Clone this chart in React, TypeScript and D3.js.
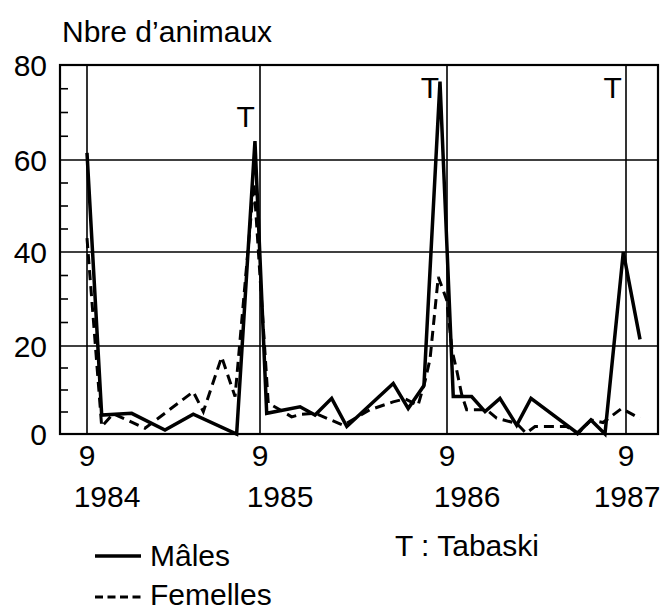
import React from 'react';
import * as d3 from 'd3';

// months counted from September 1984 (0 = Sep 1984)
const maleMonths = [0, 1.02, 3.1, 5.41, 7.37, 10.38, 11.65, 12.43, 14.57, 15.53, 16.6, 17.57, 20.55, 21.51, 22.52, 23.55, 24.42, 25.65, 26.55, 27.55, 28.67, 29.63, 32.75, 33.65, 34.59, 35.82, 36.94];
const maleValues = [61.5, 4.3, 4.7, 0.9, 4.5, 0, 64, 4.7, 6.2, 4.3, 8.1, 1.7, 11.5, 5.8, 11, 76.5, 8.5, 8.5, 5.1, 8.1, 2, 8.1, 0.2, 3.2, 0, 40, 21.4];

const femaleMonths = [0, 1.02, 1.82, 4.02, 7.37, 8.07, 9.34, 10.27, 11.58, 12.53, 13.28, 14.03, 14.68, 15.53, 17.35, 19.06, 20.54, 21.3, 22.14, 22.59, 22.91, 23.44, 23.98, 24.34, 24.65, 24.99, 25.32, 26.66, 27.33, 28.67, 29.3, 29.9, 32.02, 32.75, 33.65, 34.46, 35.71, 36.94];
const femaleValues = [43, 1.7, 4.6, 1.3, 9.6, 5.1, 17.5, 8.5, 55, 7, 5.5, 3.9, 4.5, 4.7, 2, 5.5, 7.3, 8, 6.5, 12, 17, 34.7, 29.8, 19, 14.5, 8.9, 5.5, 5.5, 3.6, 2.4, 0.2, 1.7, 1.7, 0, 3.2, 2.6, 5.8, 3.5];

const yTickValues = [0, 20, 40, 60, 80];
const yMinorValues = [5, 10, 15, 25, 30, 35, 45, 50, 55, 65, 70, 75];
const septemberMonths = [0, 12, 24, 36];
const monthLabels = ['9', '9', '9', '9'];
const yearLabels = ['1984', '1985', '1986', '1987'];
const tabaskiMonths = [11.0, 22.9, 35.1];
const tabaskiLabelValues = [67, 73, 73];

const FONT = '"Liberation Sans", Arial, Helvetica, sans-serif';

export default function App() {
  const left = 60, right = 658, top = 65, bottom = 434;
  // hand-drawn axes: piecewise-linear scales matching the drawn grid
  const x = d3.scaleLinear().domain([0, 12, 24, 36]).range([87, 260, 447, 626]);
  const y = d3.scaleLinear().domain([0, 20, 40, 60, 80]).range([bottom, 346, 252, 160, top]);

  const line = d3.line<[number, number]>().x(d => x(d[0])).y(d => y(d[1]));
  const males = maleMonths.map((m, i) => [m, maleValues[i]] as [number, number]);
  const females = femaleMonths.map((m, i) => [m, femaleValues[i]] as [number, number]);

  return (
    <svg width={665} height={610} style={{ position: 'absolute', left: 0, top: 0, background: '#fff' }}
      fontFamily={FONT}>
      <rect x={0} y={0} width={665} height={610} fill="#fff" />
      {/* horizontal grid */}
      {yTickValues.filter(v => v > 0 && v < 80).map(v => (
        <line key={'g' + v} x1={left} x2={right} y1={y(v)} y2={y(v)} stroke="#000" strokeWidth={1.6} />
      ))}
      {/* vertical September lines */}
      {septemberMonths.map(m => (
        <line key={'v' + m} x1={x(m)} x2={x(m)} y1={top} y2={bottom} stroke="#000" strokeWidth={1.6} />
      ))}
      {/* minor ticks */}
      {yMinorValues.map(v => (
        <line key={'t' + v} x1={left} x2={left + 8} y1={y(v)} y2={y(v)} stroke="#000" strokeWidth={1.6} />
      ))}
      {/* frame */}
      <rect x={left} y={top} width={right - left} height={bottom - top} fill="none" stroke="#000" strokeWidth={2.2} />

      {/* series */}
      <path d={line(females) || ''} fill="none" stroke="#000" strokeWidth={3} strokeDasharray="10,6" strokeLinejoin="miter" />
      <path d={line(males) || ''} fill="none" stroke="#000" strokeWidth={3.5} strokeLinejoin="miter" />

      {/* y labels */}
      {yTickValues.map(v => (
        <text key={'yl' + v} x={47} y={y(v)} dy="0.36em" textAnchor="end" fontSize={30}>{v}</text>
      ))}
      <text x={62} y={42} fontSize={30}>Nbre d’animaux</text>

      {/* x labels */}
      {septemberMonths.map((m, i) => (
        <text key={'ml' + m} x={x(m)} y={466} textAnchor="middle" fontSize={30}>{monthLabels[i]}</text>
      ))}
      {septemberMonths.map((m, i) => (
        <text key={'yr' + m} x={Math.min(x(m) + 20, 627)} y={507} textAnchor="middle" fontSize={30}>{yearLabels[i]}</text>
      ))}

      {/* Tabaski markers */}
      {tabaskiMonths.map((m, i) => (
        <text key={'T' + i} x={x(m)} y={y(tabaskiLabelValues[i])} textAnchor="middle" fontSize={30}>T</text>
      ))}

      {/* legend */}
      <line x1={95} x2={141} y1={556} y2={556} stroke="#000" strokeWidth={3.5} />
      <text x={150} y={566} fontSize={30}>Mâles</text>
      <line x1={95} x2={141} y1={597} y2={597} stroke="#000" strokeWidth={3} strokeDasharray="8,4.5" />
      <text x={150} y={605} fontSize={30}>Femelles</text>
      <text x={395} y={556} fontSize={30}>T : Tabaski</text>
    </svg>
  );
}
